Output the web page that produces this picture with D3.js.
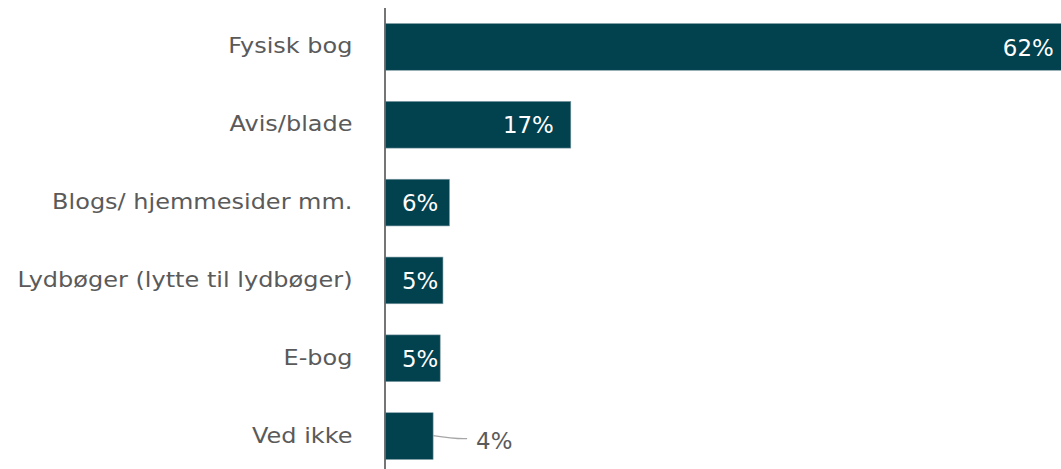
<!DOCTYPE html>
<html>
<head>
<meta charset="utf-8">
<script src="https://cdn.jsdelivr.net/npm/d3@7"></script>
<style>
  html, body { margin: 0; padding: 0; background: #ffffff; }
  svg { display: block; }
</style>
</head>
<body>
<svg id="chart" width="1061" height="469"></svg>
<script>
// Data
const categories = ["Fysisk bog", "Avis/blade", "Blogs/ hjemmesider mm.", "Lydbøger (lytte til lydbøger)", "E-bog", "Ved ikke"];
const values = [62, 16.8, 5.83, 5.24, 4.99, 4.35];
const valueLabels = ["62%", "17%", "6%", "5%", "5%", "4%"];
const outsideLabel = [false, false, false, false, false, true];

const W = 1061, H = 469;
const svg = d3.select("#chart");
const axisX = 385;
const barColor = "#02414e";
const textGray = "#5a5a5a";

const x = d3.scaleLinear().domain([0, 62]).range([axisX, axisX + 62 * 11.06]);
const y = d3.scaleBand().domain(categories).range([8, 475]).paddingInner(0.4).paddingOuter(0.2);

// bars
svg.append("g").selectAll("rect")
  .data(categories)
  .join("rect")
  .attr("x", x(0))
  .attr("y", d => y(d))
  .attr("width", (d, i) => x(values[i]) - x(0))
  .attr("height", y.bandwidth())
  .attr("fill", barColor)
  .attr("stroke", "#7f9ca4")
  .attr("stroke-width", 0.6);

// category labels (y axis)
const catG = svg.append("g");
categories.forEach((c, i) => {
  const cy = y(c) + y.bandwidth() / 2;
  catG.append("text")
    .attr("transform", `translate(${axisX - 32.5},${cy + 6.5}) scale(1.165,1)`)
    .attr("text-anchor", "end")
    .attr("font-family", "'DejaVu Sans', Verdana, sans-serif")
    .attr("font-size", 20.6)
    .attr("fill", textGray)
    .text(c);
});

// axis line
svg.append("line")
  .attr("x1", axisX).attr("x2", axisX)
  .attr("y1", 8).attr("y2", H)
  .attr("stroke", "#666666")
  .attr("stroke-width", 1.8);

// value labels
const valG = svg.append("g");
const fs = 22.9;
categories.forEach((c, i) => {
  const cy = y(c) + y.bandwidth() / 2;
  const end = x(values[i]);
  if (outsideLabel[i]) {
    valG.append("path")
      .attr("d", `M${end},${cy - 0.5} Q${end + 22},${cy + 3} ${end + 34},${cy + 2.5}`)
      .attr("fill", "none")
      .attr("stroke", "#a6a6a6")
      .attr("stroke-width", 1.3);
    valG.append("text")
      .attr("x", end + 43)
      .attr("y", cy + 13)
      .attr("font-family", "'DejaVu Sans', Verdana, sans-serif")
      .attr("font-size", fs)
      .attr("fill", textGray)
      .text(valueLabels[i]);
  } else {
    const t = valG.append("text")
      .attr("y", cy + 8.6)
      .attr("text-anchor", "end")
      .attr("font-family", "'DejaVu Sans', Verdana, sans-serif")
      .attr("font-size", fs)
      .attr("fill", "#ffffff")
      .text(valueLabels[i]);
    const tw = t.node().getComputedTextLength();
    const xr = Math.max(end - 17, x(0) + 17 + tw);
    t.attr("x", xr);
  }
});
</script>
</body>
</html>
